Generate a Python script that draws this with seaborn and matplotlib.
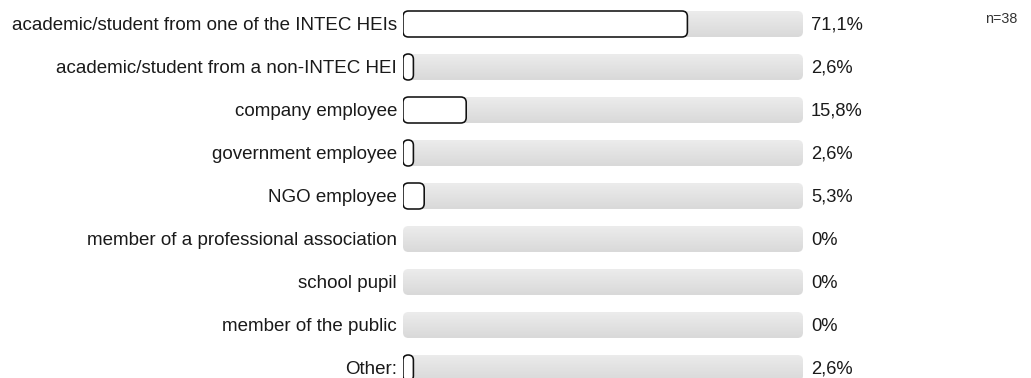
import matplotlib
matplotlib.use("Agg")
import matplotlib.pyplot as plt
import seaborn as sns
import numpy as np
import pandas as pd
from matplotlib.patches import FancyBboxPatch

categories = [
    "academic/student from one of the INTEC HEIs",
    "academic/student from a non-INTEC HEI",
    "company employee",
    "government employee",
    "NGO employee",
    "member of a professional association",
    "school pupil",
    "member of the public",
    "Other:",
]
values = [71.1, 2.6, 15.8, 2.6, 5.3, 0, 0, 0, 2.6]
value_labels = ["71,1%", "2,6%", "15,8%", "2,6%", "5,3%", "0%", "0%", "0%", "2,6%"]
full = [100] * len(categories)
n_label = "n=38"

sns.set_theme(style="white")
plt.rcParams["font.family"] = ["Liberation Sans", "DejaVu Sans"]

W, H = 1031, 378
fig = plt.figure(figsize=(W / 100, H / 100), dpi=100)
ax = fig.add_axes([403 / W, 0, 400 / W, 1])

df = pd.DataFrame({"cat": categories, "val": values, "full": full})
bh = 26 / 43
sns.barplot(data=df, y="cat", x="full", color="#e2e2e2", width=bh, ax=ax, orient="h")
n_bg = len(ax.patches)
sns.barplot(data=df, y="cat", x="val", color="white", width=bh, ax=ax, orient="h")

ax.set_xlim(0, 100)
top = -24 / 43
bottom = (378 - 24) / 43
ax.set_ylim(bottom, top)

px_x = 100 / 400
px_y = 1 / 43
aspect = px_y / px_x
r = 5.5 * px_x

patches = list(ax.patches)
for i, p in enumerate(patches):
    x0, y0 = p.get_x(), p.get_y()
    w, h = p.get_width(), p.get_height()
    p.remove()
    if i < n_bg:
        fb = FancyBboxPatch((x0, y0), w, h,
                            boxstyle=f"round,pad=0,rounding_size={r}",
                            mutation_aspect=aspect, facecolor="none",
                            edgecolor="none", zorder=1)
        ax.add_patch(fb)
        grad = np.linspace(0, 1, 50).reshape(-1, 1)
        im = ax.imshow(grad, cmap=matplotlib.colors.LinearSegmentedColormap.from_list(
            "g", ["#ececec", "#d9d9d9"]), extent=(x0, x0 + w, y0 + h, y0),
            aspect="auto", zorder=1, interpolation="bilinear")
        im.set_clip_path(fb)
    else:
        if w <= 0:
            continue
        rr = min(r, w / 2 * 0.999)
        fb = FancyBboxPatch((x0, y0), w, h,
                            boxstyle=f"round,pad=0,rounding_size={rr}",
                            mutation_aspect=aspect, facecolor="white",
                            edgecolor="#111111", linewidth=1.15, zorder=3)
        ax.add_patch(fb)

ax.set_xlim(0, 100)
ax.set_ylim(bottom, top)

dy = 1.5 / 43
for i, (c, lab) in enumerate(zip(categories, value_labels)):
    ax.text(-1.5, i + dy, c, ha="right", va="center", fontsize=13.5, color="#1a1a1a")
    ax.text(102, i + dy, lab, ha="left", va="center", fontsize=13.2, color="#1a1a1a")

ax.set_axis_off()
fig.text(1001 / W, 1 - 19 / H, n_label, ha="center", va="center", fontsize=10.3, color="#333333")

fig.savefig("out.png", dpi=100)
